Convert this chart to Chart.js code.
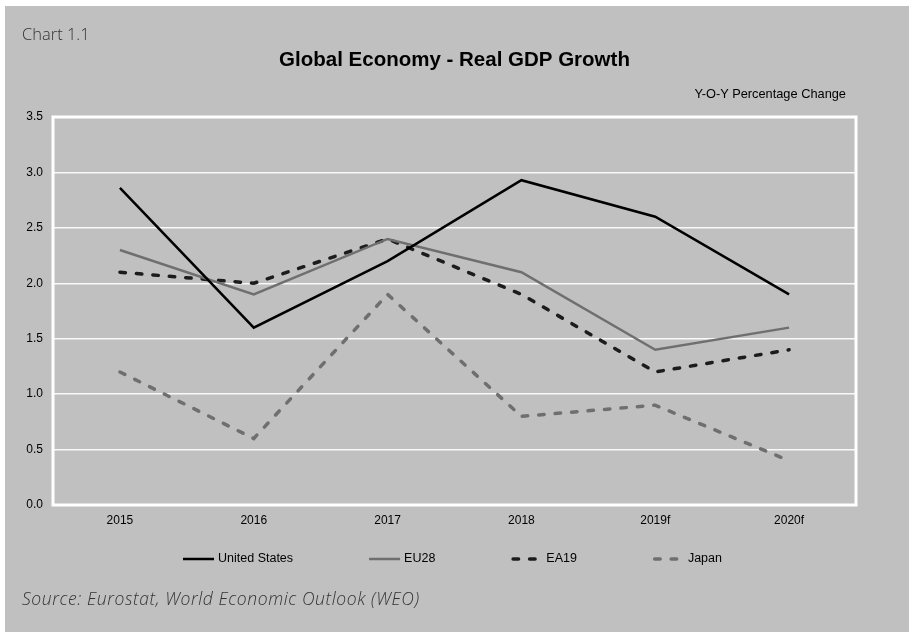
<!DOCTYPE html>
<html>
<head>
<meta charset="utf-8">
<script src="https://cdn.jsdelivr.net/npm/chart.js@4.4.1/dist/chart.umd.min.js"></script>
<style>
	html, body { margin: 0; padding: 0; background: #fff; }
	#wrap { position: absolute; left: 5px; top: 6px; width: 904px; height: 626px; background: #c0c0c0; overflow: hidden; }
	#wrap canvas { position: absolute; left: 0; top: 0; }
	.note { position: absolute; white-space: nowrap; color: #333; }
	#chartNo { left: 17px; top: 16.5px; font: 300 16.5px/22px "Open Sans", sans-serif; }
	#units { right: 63px; top: 81px; font: 12.8px/14px "Liberation Sans", Arial, sans-serif; color: #000; }
	#source { left: 17px; top: 581px; font: italic 300 17.5px/22px "Open Sans", sans-serif; letter-spacing: 0.6px; }
</style>
</head>
<body>
<div id="wrap">
	<canvas id="gdpChart" width="904" height="626"></canvas>
	<div class="note" id="chartNo">Chart 1.1</div>
	<div class="note" id="units">Y-O-Y Percentage Change</div>
	<div class="note" id="source">Source: Eurostat, World Economic Outlook (WEO)</div>
</div>
<script>
// data
const years = ['2015', '2016', '2017', '2018', '2019f', '2020f'];
const unitedStates = [2.86, 1.6, 2.2, 2.93, 2.6, 1.9];
const eu28 = [2.3, 1.9, 2.4, 2.1, 1.4, 1.6];
const ea19 = [2.1, 2.0, 2.4, 1.9, 1.2, 1.4];
const japan = [1.2, 0.6, 1.9, 0.8, 0.9, 0.4];
const yTicks = [0, 0.5, 1, 1.5, 2, 2.5, 3, 3.5];

const axisFont = { family: '"Liberation Sans", Arial, sans-serif', size: 12 };

// white box around the plot area
const plotFrame = {
	id: 'plotFrame',
	beforeDatasetsDraw(chart) {
		const { ctx, chartArea: a } = chart;
		ctx.save();
		ctx.strokeStyle = '#fff';
		ctx.lineWidth = 3;
		ctx.strokeRect(a.left, a.top, a.right - a.left, a.bottom - a.top);
		ctx.restore();
	}
};

// legend row with wide gaps (built-in legend padding would also grow the height)
const lineLegend = {
	id: 'lineLegend',
	afterDraw(chart) {
		const { ctx, chartArea: a } = chart;
		const sample = 31, gap = 4, spacing = 76, y = 553;
		ctx.save();
		ctx.font = '12.5px "Liberation Sans", Arial, sans-serif';
		const items = chart.data.datasets.map(ds => ({ ds, w: sample + gap + ctx.measureText(ds.label).width }));
		const total = items.reduce((s, it) => s + it.w, 0) + spacing * (items.length - 1);
		let x = (a.left + a.right) / 2 - 2 - total / 2;
		items.forEach(({ ds, w }) => {
			const cap = ds.borderCapStyle === 'round' ? ds.borderWidth / 2 : 0;
			ctx.beginPath();
			ctx.strokeStyle = ds.borderColor;
			ctx.lineWidth = ds.borderWidth;
			ctx.lineCap = ds.borderCapStyle || 'butt';
			ctx.setLineDash(ds.borderDash || []);
			ctx.moveTo(x + cap, y);
			ctx.lineTo(x + sample - cap, y);
			ctx.stroke();
			ctx.setLineDash([]);
			ctx.fillStyle = '#000';
			ctx.textBaseline = 'middle';
			ctx.fillText(ds.label, x + sample + gap, y);
			x += w + spacing;
		});
		ctx.restore();
	}
};

const ctx = document.getElementById('gdpChart').getContext('2d');
new Chart(ctx, {
	type: 'line',
	data: {
		labels: years,
		datasets: [{
			label: 'United States',
			data: unitedStates,
			borderColor: '#000000',
			borderWidth: 2.5,
		}, {
			label: 'EU28',
			data: eu28,
			borderColor: '#6f6f6f',
			borderWidth: 2.5,
		}, {
			label: 'EA19',
			data: ea19,
			borderColor: '#1c1c1c',
			borderWidth: 3.5,
			borderDash: [5.5, 11],
			borderCapStyle: 'round',
		}, {
			label: 'Japan',
			data: japan,
			borderColor: '#6f6f6f',
			borderWidth: 3.5,
			borderDash: [5.5, 11],
			borderCapStyle: 'round',
		}]
	},
	options: {
		responsive: false,
		animation: false,
		elements: {
			point: { radius: 0, hoverRadius: 0 },
			line: { tension: 0, fill: false }
		},
		layout: {
			padding: { left: 0, right: 53, top: 0, bottom: 0 }
		},
		plugins: {
			legend: { display: false },
			tooltip: { enabled: false },
			title: {
				display: true,
				fullSize: false, // centre over the plot, like the original
				text: 'Global Economy - Real GDP Growth',
				color: '#000',
				font: { family: '"Liberation Sans", Arial, sans-serif', size: 20.5, weight: 'bold' },
				padding: { top: 41.7, bottom: 44.7 }
			}
		},
		scales: {
			y: {
				min: 0,
				max: 3.5,
				afterBuildTicks: axis => { axis.ticks = yTicks.map(v => ({ value: v })); },
				afterFit: axis => { axis.width = 48; },
				ticks: {
					color: '#000',
					font: axisFont,
					padding: 10,
					callback: v => v.toFixed(1)
				},
				grid: {
					color: 'rgba(255, 255, 255, 0.9)',
					lineWidth: 1.5,
					drawTicks: false
				},
				border: { display: false }
			},
			x: {
				offset: true,
				afterFit: axis => { axis.height = 127; },
				ticks: {
					color: '#000',
					font: axisFont,
					padding: 8,
					maxRotation: 0
				},
				grid: { display: false, drawTicks: false, offset: true },
				border: { display: false }
			}
		}
	},
	plugins: [plotFrame, lineLegend]
});
</script>
</body>
</html>
